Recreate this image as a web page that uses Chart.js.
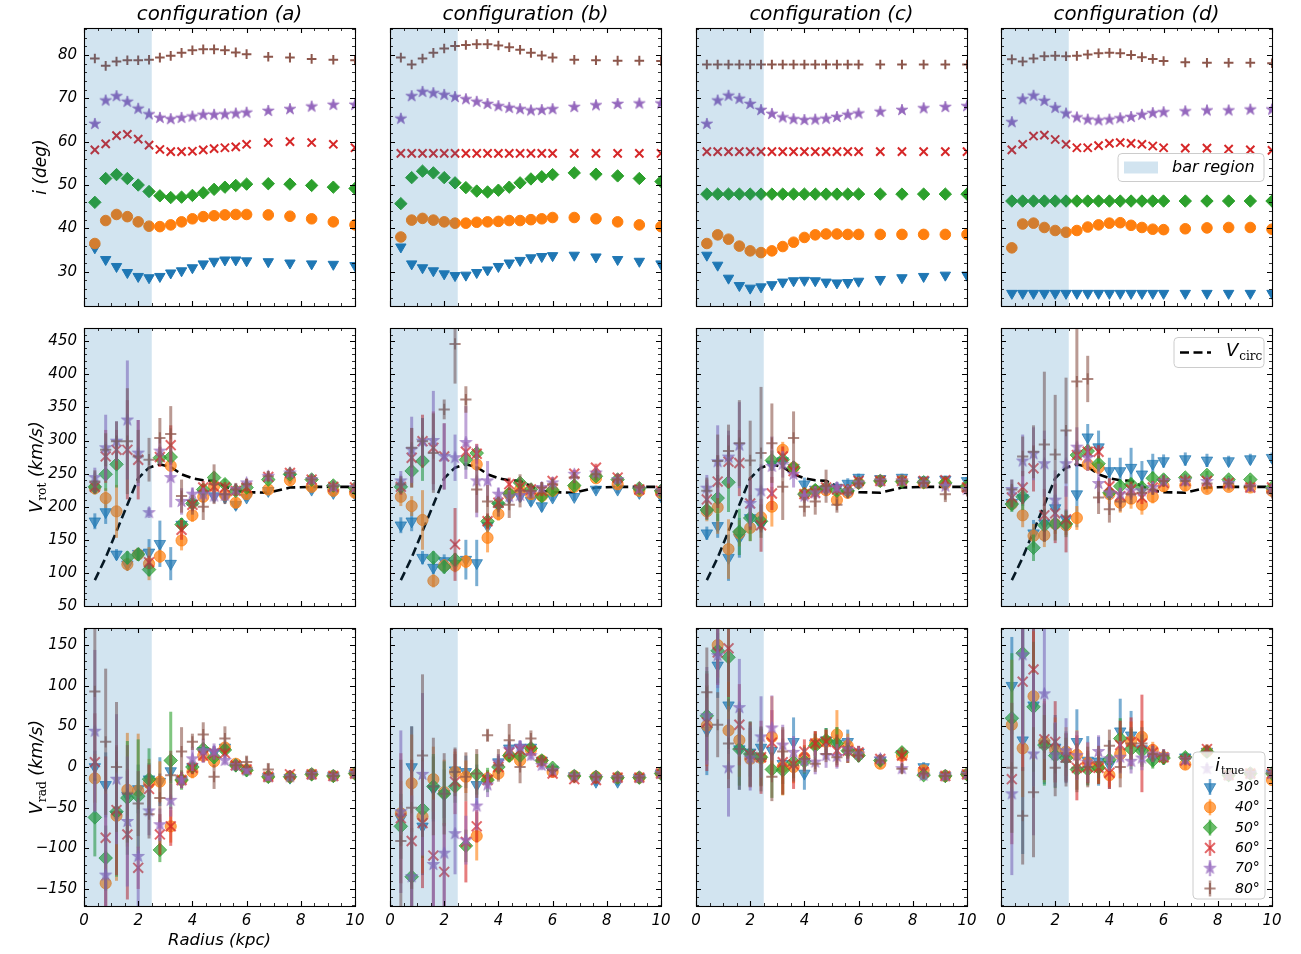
<!DOCTYPE html>
<html>
<head>
<meta charset="utf-8">
<script src="https://cdn.jsdelivr.net/npm/chart.js@4.4.1/dist/chart.umd.min.js"></script>
<style>
  html, body { margin: 0; padding: 0; background: #fff; }
  body { width: 1301px; height: 954px; position: relative; overflow: hidden;
         font-family: 'DejaVu Sans', sans-serif; font-style: italic; color: #000; }
  canvas { position: absolute; }
  .t { position: absolute; white-space: nowrap; line-height: 1; }
  .ctr { transform: translate(-50%, -50%); }
  .rot { transform: translate(-50%, -50%) rotate(-90deg); }
  .sub { font-family: 'DejaVu Serif', serif; font-style: normal; font-size: 0.7em; position: relative; top: 0.32em; }
</style>
</head>
<body>
<script>
// ---------------- DATA ----------------
const radius = [0.4,0.8,1.2,1.6,2.0,2.4,2.8,3.2,3.6,4.0,4.4,4.8,5.2,5.6,6.0,6.8,7.6,8.4,9.2,10.0];
const inclinationLabels = ['30°','40°','50°','60°','70°','80°'];
const configLabels = ['configuration (a)','configuration (b)','configuration (c)','configuration (d)'];
const barRegion = [0, 2.5];
const radiusTicks = [0,2,4,6,8,10];
const incTicks = [30,40,50,60,70,80];
const vrotTicks = [50,100,150,200,250,300,350,400,450];
const vradTicks = [-150,-100,-50,0,50,100,150];

const vCirc = [89,123,163,203,243,259,264,260,249,243,240,239,231,224,222,221,229,230,230,230];

// inclination i (deg), series order 30,40,50,60,70,80
const incA = [
  [35.5,32.8,31.2,29.8,28.9,28.6,28.9,29.7,30.2,30.9,31.8,32.4,32.7,32.7,32.5,32.3,32.0,31.8,31.7,31.4],
  [36.5,41.8,43.2,42.7,41.5,40.5,40.4,40.8,41.5,42.2,42.7,42.9,43.1,43.2,43.2,43.1,42.8,42.2,41.5,40.8],
  [46.0,51.5,52.4,51.5,50.0,48.5,47.5,47.1,47.2,47.6,48.2,49.0,49.5,49.9,50.2,50.3,50.2,49.9,49.5,49.2],
  [58.1,59.5,61.4,61.7,60.6,59.2,58.2,57.7,57.7,57.8,58.1,58.4,58.6,58.8,59.4,59.8,60.0,59.8,59.4,58.6],
  [64.1,69.5,70.5,69.2,67.6,66.3,65.5,65.2,65.5,65.8,66.2,66.2,66.3,66.5,66.7,67.1,67.5,68.1,68.5,68.5],
  [79.2,77.5,78.5,78.8,78.8,78.9,79.4,79.8,80.5,81.1,81.3,81.3,81.1,80.6,80.2,79.6,79.4,79.1,78.9,78.8]
];
const incB = [
  [35.7,31.8,30.9,30.2,29.5,29.1,29.2,29.8,30.4,31.2,32.0,32.6,33.2,33.5,33.7,33.8,33.4,32.8,32.4,31.8],
  [38.0,41.9,42.3,41.9,41.5,41.2,41.2,41.4,41.5,41.6,41.8,41.8,42.0,42.2,42.5,42.5,42.2,41.5,40.8,40.4],
  [45.7,51.7,53.2,52.8,51.7,50.5,49.4,48.6,48.4,48.8,49.5,50.5,51.4,51.9,52.4,52.8,52.5,52.1,51.5,50.8],
  [57.3,57.3,57.3,57.3,57.3,57.3,57.3,57.3,57.3,57.3,57.3,57.3,57.3,57.3,57.3,57.3,57.3,57.3,57.3,57.3],
  [65.3,70.5,71.5,71.2,70.8,70.3,69.8,69.2,68.7,68.2,67.8,67.5,67.2,67.3,67.5,68.0,68.4,68.7,68.8,68.8],
  [79.4,77.8,79.2,80.5,81.5,82.1,82.3,82.5,82.5,82.2,81.8,81.2,80.5,79.9,79.4,78.9,78.8,78.7,78.7,78.6]
];
const incC = [
  [33.8,31.5,28.5,26.8,26.2,26.5,27.0,27.6,27.9,28.0,27.9,27.6,27.4,27.5,27.8,28.2,28.6,28.9,29.2,29.2],
  [36.5,38.5,37.5,35.9,34.8,34.4,34.8,35.8,36.8,37.9,38.5,38.7,38.7,38.6,38.6,38.6,38.6,38.6,38.6,38.6],
  [47.9,47.9,47.9,47.9,47.9,47.9,47.9,47.9,47.9,47.9,47.9,47.9,47.9,47.9,47.9,47.9,47.9,47.9,47.9,47.9],
  [57.7,57.7,57.7,57.7,57.7,57.7,57.7,57.7,57.7,57.7,57.7,57.7,57.7,57.7,57.7,57.7,57.7,57.7,57.7,57.7],
  [64.1,69.5,70.6,69.9,68.7,67.3,66.4,65.6,65.2,65.0,65.1,65.3,65.7,66.2,66.5,66.9,67.3,67.7,68.0,68.2],
  [77.8,77.8,77.8,77.8,77.8,77.8,77.8,77.8,77.8,77.8,77.8,77.8,77.8,77.8,77.8,77.8,77.8,77.8,77.8,77.8]
];
const incD = [
  [25.0,25.0,25.0,25.0,25.0,25.0,25.0,25.0,25.0,25.0,25.0,25.0,25.0,25.0,25.0,25.0,25.0,25.0,25.0,25.0],
  [35.5,41.0,41.2,40.2,39.5,39.1,39.5,40.3,40.8,41.2,41.3,40.7,40.2,39.8,39.7,39.9,40.1,40.2,40.2,39.8],
  [46.3,46.3,46.3,46.3,46.3,46.3,46.3,46.3,46.3,46.3,46.3,46.3,46.3,46.3,46.3,46.3,46.3,46.3,46.3,46.3],
  [58.1,59.4,61.3,61.5,60.5,59.4,58.6,58.6,59.1,59.6,59.8,59.6,59.4,59.0,58.6,58.5,58.5,58.3,58.1,58.0],
  [64.5,69.8,70.6,69.4,67.8,66.5,65.6,65.1,64.9,65.1,65.4,65.7,66.2,66.6,66.8,67.0,67.2,67.2,67.4,67.4],
  [79.0,78.5,79.2,79.7,79.8,79.7,79.8,80.1,80.4,80.5,80.4,80.0,79.5,79.1,78.6,78.3,78.2,78.2,78.2,78.1]
];

// rotation velocity (km/s) and errors
const vrotA = [
  [178,192,128,113,129,131,144,114,173,205,219,216,214,203,214,224,244,226,221,219],
  [228,213,193,113,128,114,125,262,149,187,215,231,218,206,219,226,240,230,224,221],
  [230,249,264,123,128,105,274,275,173,205,226,244,234,224,229,241,249,241,232,228],
  [230,276,286,286,271,116,275,293,165,203,229,230,229,224,229,245,251,241,230,229],
  [244,289,299,331,281,191,284,244,208,219,219,216,217,226,236,246,251,241,230,229],
  [238,286,299,299,276,271,304,310,216,203,200,234,219,226,234,246,251,241,231,229]
];
const vrotErrA = [
  [12,18,8,8,8,20,35,25,10,8,8,8,8,8,6,6,6,6,6,6],
  [10,15,40,10,10,25,10,10,15,10,8,8,8,8,6,6,6,6,6,6],
  [10,25,35,10,10,10,10,10,10,8,8,8,8,8,6,6,6,6,6,6],
  [10,40,30,75,60,10,15,30,15,10,10,10,8,8,6,6,6,6,6,6],
  [15,50,30,90,50,8,20,45,20,10,10,10,8,8,6,6,6,6,6,6],
  [17,25,30,80,40,33,30,42,25,15,20,30,15,10,8,8,6,6,6,6]
];
const vrotB = [
  [172,178,123,108,118,114,120,115,171,201,214,216,209,201,214,215,226,226,221,216],
  [215,201,180,88,111,111,117,264,153,189,219,226,219,216,224,230,243,234,224,221],
  [230,254,269,123,109,120,271,281,178,205,220,236,226,216,225,232,246,241,228,224],
  [230,274,299,289,276,143,283,280,178,206,234,230,226,224,239,250,259,244,226,224],
  [239,286,299,300,276,274,297,239,239,219,215,217,221,229,236,249,251,241,227,224],
  [234,289,299,281,347,446,362,226,208,200,203,224,224,229,234,244,249,241,229,224]
];
const vrotErrB = [
  [12,15,10,10,10,10,30,35,10,8,8,8,8,8,6,6,6,6,6,6],
  [14,15,45,10,10,10,10,10,22,10,8,8,8,8,6,6,6,6,6,6],
  [10,25,30,10,10,10,15,10,10,8,8,8,8,8,6,6,6,6,6,6],
  [12,45,40,55,50,55,15,15,12,10,10,10,8,8,6,6,6,6,6,6],
  [15,50,35,75,50,35,55,55,30,10,10,10,8,8,6,6,6,6,6,6],
  [12,30,35,60,15,60,20,35,25,15,20,25,12,8,8,8,6,6,6,6]
];
const vrotC = [
  [160,171,123,153,183,173,264,269,259,234,226,226,229,235,244,242,244,240,241,239],
  [193,199,136,160,168,184,200,286,259,219,224,225,210,221,236,239,239,236,235,229],
  [195,213,237,162,183,178,270,271,259,219,225,229,224,224,236,239,238,237,236,231],
  [211,238,268,266,205,172,220,276,254,219,221,229,226,226,239,239,239,239,240,229],
  [228,268,275,293,205,224,261,264,249,216,221,228,229,224,236,239,239,236,231,226],
  [224,269,284,296,270,281,296,230,304,200,208,231,203,221,235,239,239,236,219,224]
];
const vrotErrC = [
  [10,18,35,30,15,12,10,10,10,10,8,8,8,8,6,6,6,6,6,6],
  [15,40,45,20,20,20,30,12,10,10,8,8,8,8,6,6,6,6,6,6],
  [15,35,45,35,35,25,15,10,10,8,8,8,8,8,6,6,6,6,6,6],
  [30,40,40,50,40,40,25,15,10,10,10,10,8,8,6,6,6,6,6,6],
  [20,55,40,65,35,40,45,20,20,10,10,10,8,8,6,6,6,6,6,6],
  [20,40,40,65,60,100,60,50,40,15,20,25,12,8,8,8,6,6,12,6]
];
const vrotD = [
  [206,213,160,175,198,181,219,305,290,254,254,259,249,265,269,272,270,269,272,274],
  [204,187,156,157,174,172,183,264,259,219,206,212,203,215,231,232,227,230,229,224],
  [204,215,138,172,174,174,278,284,265,221,231,234,229,243,241,244,248,241,241,229],
  [214,229,258,187,190,181,278,283,283,231,216,226,214,229,236,239,239,236,229,229],
  [226,269,280,265,210,265,290,274,235,221,219,224,224,229,239,239,238,235,230,226],
  [226,276,283,294,279,315,389,393,214,196,208,219,221,226,239,239,235,235,231,221]
];
const vrotErrD = [
  [10,12,20,20,20,15,50,20,25,20,20,30,20,15,10,10,10,8,8,8],
  [10,18,18,18,15,15,18,10,10,15,15,15,15,10,8,8,6,6,6,6],
  [12,20,20,25,25,20,15,10,12,10,10,10,10,10,8,6,6,6,6,6],
  [15,25,35,40,45,50,15,10,10,12,12,12,10,10,6,6,6,6,6,6],
  [15,40,40,50,45,50,30,20,30,10,10,10,8,8,6,6,6,6,6,6],
  [15,30,40,110,90,80,110,35,25,20,15,15,10,8,8,8,6,6,6,6]
];

// radial velocity (km/s) and errors
const vradA = [
  [0,-22,-59,-35,-27,-15,-18,-5,-16,0,20,18,24,2,-4,-12,-13,-9,-11,-8],
  [-14,-143,-60,-28,-29,-20,-18,-73,-16,-6,14,7,24,4,-3,-12,-12,-9,-11,-8],
  [-62,-112,-55,-38,-36,-15,-102,8,-16,0,22,12,21,2,-4,-12,-12,-9,-11,-8],
  [6,-87,-53,-83,-124,-27,-83,-73,-16,-1,14,17,17,2,-3,-12,-9,-9,-11,-8],
  [44,-133,-15,-67,-110,-54,-71,-41,-16,10,20,19,8,2,-4,-12,-12,-9,-11,-8],
  [93,31,0,-33,-45,-58,-38,-10,19,31,40,-12,35,2,6,-3,-12,-9,-11,-8]
];
const vradErrA = [
  [20,40,30,30,30,20,30,15,10,8,8,8,6,6,5,5,5,5,5,5],
  [30,40,80,70,70,30,25,20,10,8,8,8,6,6,5,5,5,5,5,5],
  [48,40,80,70,70,38,15,60,12,8,8,8,6,6,5,5,5,5,5,5],
  [60,100,80,80,26,30,25,24,10,8,8,8,6,6,5,5,5,5,5,5],
  [100,100,80,80,70,30,20,20,10,15,15,10,6,6,5,5,5,5,5,5],
  [110,90,80,60,40,30,30,30,30,10,15,15,15,5,8,8,6,5,5,5]
];
const vradB = [
  [-63,0,-73,-27,-33,-4,-6,-22,-14,6,23,24,24,8,-3,-11,-18,-18,-13,-8],
  [-57,-20,-61,-15,-31,-6,-12,-85,-14,-8,14,8,21,8,-6,-11,-12,-13,-13,-8],
  [-73,-135,-52,-24,-33,-24,-97,-9,-16,0,14,14,23,8,-1,-11,-12,-13,-13,-8],
  [-63,-91,-69,-109,-129,-18,-92,-73,-16,0,18,21,20,6,-8,-15,-16,-13,-13,-8],
  [-55,-135,-9,-120,-106,-82,-90,-48,-22,6,22,25,14,2,-4,-11,-12,-13,-13,-8],
  [-91,-50,14,-24,-33,-6,-12,-8,39,2,33,0,35,8,-4,-11,-12,-13,-13,-8]
];
const vradErrB = [
  [20,50,60,40,30,20,20,25,10,8,8,8,6,6,5,5,5,5,5,5],
  [40,60,70,40,40,25,20,30,10,8,8,8,6,6,5,5,5,5,5,5],
  [40,60,60,40,40,20,20,25,15,8,8,8,6,6,5,5,5,5,5,5],
  [80,100,80,80,60,40,50,20,10,8,8,8,6,6,5,5,5,5,5,5],
  [100,100,100,80,80,50,30,30,15,10,10,8,6,6,5,5,5,5,5,5],
  [100,100,100,60,50,30,30,30,8,20,20,20,10,6,5,5,5,5,5,5]
];
const vradC = [
  [45,125,76,22,18,24,20,4,31,-8,29,33,29,31,18,8,16,0,-11,-9],
  [51,150,45,33,10,11,37,0,0,12,29,31,40,26,16,4,14,-4,-11,-9],
  [63,143,135,22,16,12,-3,-4,6,7,26,33,29,20,14,8,18,-10,-11,-9],
  [55,141,146,52,15,12,30,6,3,19,29,31,20,20,18,10,14,-6,-11,-9],
  [63,137,-1,73,11,37,48,27,18,8,6,14,13,22,16,10,-2,-10,-11,-9],
  [92,52,29,22,16,10,-12,19,2,10,4,16,12,20,14,8,-2,-8,-11,-9]
];
const vradErrC = [
  [55,40,60,50,30,25,25,25,30,20,15,15,20,15,8,6,6,6,5,5],
  [50,40,60,45,35,35,50,35,20,15,15,15,30,15,8,6,6,6,5,5],
  [55,40,60,45,40,35,35,30,20,15,15,15,20,15,8,6,6,6,5,5],
  [60,40,60,50,40,45,40,40,30,15,15,15,20,15,8,6,10,6,5,5],
  [60,40,60,60,40,50,40,25,20,15,15,15,15,15,8,6,6,6,5,5],
  [55,40,55,50,40,40,30,30,20,15,10,10,10,10,8,6,6,6,5,5]
];
const vradD = [
  [100,33,76,29,24,14,31,8,7,3,44,39,22,11,11,12,19,-10,-8,-8],
  [52,23,87,31,21,19,15,5,0,-10,16,31,37,21,12,3,19,-10,-8,-16],
  [60,140,74,27,14,11,-3,-3,-1,9,35,22,20,8,11,12,19,-10,-8,-8],
  [-15,105,120,34,31,12,-1,0,-1,-7,27,31,29,18,12,8,22,-10,-8,-8],
  [-33,138,16,90,15,20,14,6,19,10,12,7,11,16,14,9,-2,-10,-8,-8],
  [-1,-60,-31,24,-1,6,-1,0,6,26,0,29,29,16,14,10,19,-10,-8,-8]
];
const vradErrD = [
  [60,140,100,50,40,30,40,30,30,30,40,30,20,10,8,6,8,6,5,5],
  [80,60,80,50,40,30,30,25,20,15,30,25,20,10,8,6,6,6,5,5],
  [80,100,80,50,40,30,25,20,20,15,25,25,20,10,8,6,6,6,5,5],
  [80,110,110,50,50,30,40,20,20,20,30,30,60,10,8,6,6,6,5,5],
  [100,110,100,80,40,40,30,25,20,15,20,15,15,10,8,6,6,6,5,5],
  [80,60,80,40,35,30,30,25,20,20,25,20,20,10,8,6,6,6,5,5]
];

// ---------------- STYLE / LAYOUT ----------------
const COLORS = ['#1f77b4','#ff7f0e','#2ca02c','#d62728','#9467bd','#8c564b'];
const STYLES = [
  {style:'triangle', rot:180, rTop:6.0, rMid:6.6, bw:1},
  {style:'circle',   rot:0,   rTop:5.3, rMid:5.6, bw:1},
  {style:'rectRot',  rot:0,   rTop:6.2, rMid:6.8, bw:1},
  {style:'crossRot', rot:0,   rTop:5.8, rMid:7.0, bw:2},
  {style:'star',     rot:0,   rTop:6.0, rMid:6.4, bw:1},
  {style:'cross',    rot:0,   rTop:4.8, rMid:5.6, bw:2}
];
const PL = [84, 390, 696, 1001];
const PT = [28, 328, 628];
const PW = 271, PH = 278;
const PADL = 70, PADT = 10, PADR = 20, PADB = 35;
const ROWS = [
  {vals:[incA,incB,incC,incD], errs:null, min:22.08, max:86.23, ticks:incTicks, minor:2},
  {vals:[vrotA,vrotB,vrotC,vrotD], errs:[vrotErrA,vrotErrB,vrotErrC,vrotErrD], min:50, max:470, ticks:vrotTicks, minor:10},
  {vals:[vradA,vradB,vradC,vradD], errs:[vradErrA,vradErrB,vradErrC,vradErrD], min:-171, max:171, ticks:vradTicks, minor:10}
];
const FONT = "'DejaVu Sans', sans-serif";
const SERIF = "'DejaVu Serif', serif";

Chart.defaults.color = '#000';
Chart.defaults.font.family = FONT;

function rgba(hex, a) {
  const n = parseInt(hex.slice(1), 16);
  return `rgba(${(n>>16)&255},${(n>>8)&255},${n&255},${a})`;
}
function starImage(R, color) {
  const s = Math.ceil(2 * R + 2);
  const c = document.createElement('canvas');
  c.width = s; c.height = s;
  const g = c.getContext('2d');
  g.fillStyle = color; g.strokeStyle = color; g.lineWidth = 0.8;
  g.beginPath();
  for (let k = 0; k < 10; k++) {
    const r = k % 2 === 0 ? R : R * 0.382;
    const ang = -Math.PI / 2 + k * Math.PI / 5;
    const px = s / 2 + r * Math.cos(ang), py = s / 2 + r * Math.sin(ang);
    if (k === 0) g.moveTo(px, py); else g.lineTo(px, py);
  }
  g.closePath(); g.fill(); g.stroke();
  return c;
}
function markerOpts(k, row) {
  const st = STYLES[k];
  const a = row === 0 ? 1 : 0.7;
  const col = rgba(COLORS[k], a);
  const r = row === 0 ? st.rTop : st.rMid;
  return {col, r, rot: st.rot, bw: st.bw,
          style: st.style === 'star' ? starImage(r, col) : st.style};
}

function roundBox(ctx, x, y, w, h, rad) {
  ctx.save();
  ctx.beginPath();
  ctx.moveTo(x + rad, y);
  ctx.lineTo(x + w - rad, y); ctx.arcTo(x + w, y, x + w, y + rad, rad);
  ctx.lineTo(x + w, y + h - rad); ctx.arcTo(x + w, y + h, x + w - rad, y + h, rad);
  ctx.lineTo(x + rad, y + h); ctx.arcTo(x, y + h, x, y + h - rad, rad);
  ctx.lineTo(x, y + rad); ctx.arcTo(x, y, x + rad, y, rad);
  ctx.closePath();
  ctx.fillStyle = 'rgba(255,255,255,0.8)'; ctx.fill();
  ctx.strokeStyle = '#cccccc'; ctx.lineWidth = 1; ctx.stroke();
  ctx.restore();
}

function drawLegend(chart, row) {
  const ctx = chart.ctx, a = chart.chartArea;
  ctx.save();
  ctx.textBaseline = 'middle';
  if (row === 0) {
    const w = 146, h = 28, x = a.right - 8 - w, y = Math.round((a.top + a.bottom) / 2 - h / 2) + 0.5;
    roundBox(ctx, x, y, w, h, 4);
    ctx.fillStyle = 'rgba(31,119,180,0.2)';
    ctx.fillRect(x + 6, y + 8, 34, 12);
    ctx.fillStyle = '#000';
    ctx.font = `italic 16px ${FONT}`;
    ctx.fillText('bar region', x + 54, y + 14.5);
  } else if (row === 1) {
    const w = 90, h = 30, x = a.right - 8 - w, y = a.top + 9.5;
    roundBox(ctx, x, y, w, h, 4);
    ctx.strokeStyle = '#000'; ctx.lineWidth = 2.6; ctx.setLineDash([9, 4.5]);
    ctx.beginPath(); ctx.moveTo(x + 6, y + 15); ctx.lineTo(x + 37, y + 15); ctx.stroke();
    ctx.setLineDash([]);
    ctx.fillStyle = '#000';
    ctx.font = `italic 18px ${FONT}`;
    ctx.fillText('V', x + 52, y + 14);
    const vw = ctx.measureText('V').width;
    ctx.font = `12px ${SERIF}`;
    ctx.fillText('circ', x + 52 + vw + 1, y + 19);
  } else {
    const w = 72, h = 147, x = a.right - 7 - w, y = a.bottom - 7 - h;
    roundBox(ctx, x, y, w, h, 4);
    ctx.fillStyle = '#000';
    ctx.font = `italic 18px ${FONT}`;
    ctx.fillText('i', x + 22, y + 14);
    const iw = ctx.measureText('i').width;
    ctx.font = `11px ${SERIF}`;
    ctx.fillText('true', x + 22 + iw + 1, y + 19);
    for (let k = 0; k < 6; k++) {
      const cy = y + 35 + k * 20.3, cx = x + 17;
      const m = markerOpts(k, 1);
      ctx.strokeStyle = rgba(COLORS[k], 0.6); ctx.lineWidth = 2.5;
      ctx.beginPath(); ctx.moveTo(cx, cy - 8); ctx.lineTo(cx, cy + 8); ctx.stroke();
      ctx.fillStyle = m.col; ctx.strokeStyle = m.col; ctx.lineWidth = m.bw;
      Chart.helpers.drawPoint(ctx, {pointStyle: m.style, radius: m.r, rotation: m.rot, borderWidth: m.bw}, cx, cy);
      ctx.fillStyle = '#000';
      ctx.font = `italic 14px ${FONT}`;
      ctx.fillText(inclinationLabels[k], x + 42, cy + 0.5);
    }
  }
  ctx.restore();
}

function makePlugin(row, col) {
  const R = ROWS[row];
  return {
    id: 'panel' + row + col,
    beforeDatasetDraw(chart, args) {
      const ds = chart.data.datasets[args.index];
      if (!ds.errors) return;
      const ctx = chart.ctx, a = chart.chartArea, xs = chart.scales.x, ys = chart.scales.y;
      ctx.save();
      ctx.beginPath(); ctx.rect(a.left, a.top, a.right - a.left, a.bottom - a.top); ctx.clip();
      ctx.strokeStyle = ds.errColor; ctx.lineWidth = 3; ctx.lineCap = 'butt';
      ds.data.forEach((p, i) => {
        const e = ds.errors[i];
        const px = xs.getPixelForValue(p.x);
        ctx.beginPath();
        ctx.moveTo(px, ys.getPixelForValue(p.y - e));
        ctx.lineTo(px, ys.getPixelForValue(p.y + e));
        ctx.stroke();
      });
      ctx.restore();
    },
    afterDatasetsDraw(chart) {
      const ctx = chart.ctx, a = chart.chartArea, xs = chart.scales.x;
      const x0 = xs.getPixelForValue(barRegion[0]), x1 = xs.getPixelForValue(barRegion[1]);
      ctx.save();
      ctx.fillStyle = 'rgba(31,119,180,0.2)';
      ctx.fillRect(x0, a.top, x1 - x0, a.bottom - a.top);
      ctx.restore();
    },
    afterDraw(chart) {
      const ctx = chart.ctx, a = chart.chartArea, xs = chart.scales.x, ys = chart.scales.y;
      ctx.save();
      ctx.strokeStyle = '#000';
      const xmin = radiusTicks[0], xmax = radiusTicks[radiusTicks.length - 1];
      const nx = Math.round((xmax - xmin) / 0.5);
      for (let j = 0; j <= nx; j++) {
        const v = xmin + j * 0.5;
        const major = radiusTicks.some(t => Math.abs(t - v) < 1e-6);
        const len = major ? 5 : 3;
        ctx.lineWidth = major ? 1.1 : 0.8;
        const px = Math.round(xs.getPixelForValue(v)) + 0.5;
        ctx.beginPath();
        ctx.moveTo(px, a.bottom); ctx.lineTo(px, a.bottom - len);
        ctx.moveTo(px, a.top); ctx.lineTo(px, a.top + len);
        ctx.stroke();
      }
      const start = Math.ceil(R.min / R.minor), end = Math.floor(R.max / R.minor);
      for (let j = start; j <= end; j++) {
        const v = j * R.minor;
        const major = R.ticks.some(t => Math.abs(t - v) < 1e-6);
        const len = major ? 5 : 3;
        ctx.lineWidth = major ? 1.1 : 0.8;
        const py = Math.round(ys.getPixelForValue(v)) + 0.5;
        ctx.beginPath();
        ctx.moveTo(a.left, py); ctx.lineTo(a.left + len, py);
        ctx.moveTo(a.right, py); ctx.lineTo(a.right - len, py);
        ctx.stroke();
      }
      ctx.lineWidth = 1.1;
      ctx.strokeRect(Math.round(a.left) + 0.5, Math.round(a.top) + 0.5,
                     Math.round(a.right - a.left), Math.round(a.bottom - a.top));
      ctx.restore();
      if (col === 3) drawLegend(chart, row);
    }
  };
}

function makePanel(row, col) {
  const R = ROWS[row];
  const cv = document.createElement('canvas');
  const cw = PADL + PW + PADR, ch = PADT + PH + PADB;
  cv.width = cw; cv.height = ch;
  cv.style.width = cw + 'px'; cv.style.height = ch + 'px';
  cv.style.left = (PL[col] - PADL) + 'px';
  cv.style.top = (PT[row] - PADT) + 'px';
  document.body.appendChild(cv);

  const vals = R.vals[col];
  const errs = R.errs ? R.errs[col] : null;
  const datasets = vals.map((v, k) => {
    const m = markerOpts(k, row);
    return {
      label: inclinationLabels[k],
      data: radius.map((x, i) => ({x, y: v[i]})),
      errors: errs ? errs[k] : null,
      errColor: rgba(COLORS[k], 0.6),
      showLine: false,
      pointStyle: m.style,
      pointRadius: m.r, pointHoverRadius: m.r,
      pointRotation: m.rot,
      pointBackgroundColor: m.col, pointBorderColor: m.col,
      pointBorderWidth: m.bw,
      order: 5 - k,
      clip: 0
    };
  });
  if (row === 1) {
    datasets.push({
      label: 'Vcirc',
      data: radius.map((x, i) => ({x, y: vCirc[i]})),
      showLine: true, fill: false,
      borderColor: '#000', borderWidth: 2.6, borderDash: [9, 4.5],
      pointRadius: 0, pointHoverRadius: 0,
      order: 20, clip: 0
    });
  }

  new Chart(cv, {
    type: 'scatter',
    data: {datasets},
    options: {
      responsive: false, animation: false, devicePixelRatio: 1, events: [],
      layout: {padding: {left: 0, top: PADT, right: PADR, bottom: 0}},
      plugins: {legend: {display: false}, tooltip: {enabled: false}},
      scales: {
        x: {
          type: 'linear', min: radiusTicks[0], max: radiusTicks[radiusTicks.length - 1],
          grid: {display: false, drawTicks: false}, border: {display: false},
          afterBuildTicks: s => { s.ticks = radiusTicks.map(v => ({value: v})); },
          afterFit: s => { s.height = PADB; s.paddingLeft = 0; s.paddingRight = 0; s.paddingTop = 0; s.paddingBottom = 0; },
          ticks: {display: row === 2, padding: 6, maxRotation: 0,
                  font: {family: FONT, size: 15, style: 'italic'}, color: '#000'}
        },
        y: {
          type: 'linear', min: R.min, max: R.max,
          grid: {display: false, drawTicks: false}, border: {display: false},
          afterBuildTicks: s => { s.ticks = R.ticks.map(v => ({value: v})); },
          afterFit: s => { s.width = PADL; s.paddingTop = 0; s.paddingBottom = 0; s.paddingLeft = 0; s.paddingRight = 0; },
          ticks: {display: col === 0, padding: 7,
                  callback: v => String(v).replace('-', '\u2212'),
                  font: {family: FONT, size: 15, style: 'italic'}, color: '#000'}
        }
      }
    },
    plugins: [makePlugin(row, col)]
  });
}

for (let r = 0; r < 3; r++) for (let c = 0; c < 4; c++) makePanel(r, c);

// ---------------- TEXT ----------------
function addText(html, left, top, cls, size) {
  const d = document.createElement('div');
  d.className = 't ' + cls;
  d.style.left = left + 'px'; d.style.top = top + 'px'; d.style.fontSize = size + 'px';
  d.innerHTML = html;
  document.body.appendChild(d);
}
configLabels.forEach((t, c) => addText(t, PL[c] + PW / 2, 14, 'ctr', 19.8));
addText('i (deg)', 40, PT[0] + PH / 2, 'rot', 17);
addText('V<span class="sub">rot</span> (km/s)', 37, PT[1] + PH / 2, 'rot', 17.5);
addText('V<span class="sub">rad</span> (km/s)', 37, PT[2] + PH / 2, 'rot', 17.5);
addText('Radius (kpc)', PL[0] + PW / 2, 940, 'ctr', 16.5);
</script>
</body>
</html>
